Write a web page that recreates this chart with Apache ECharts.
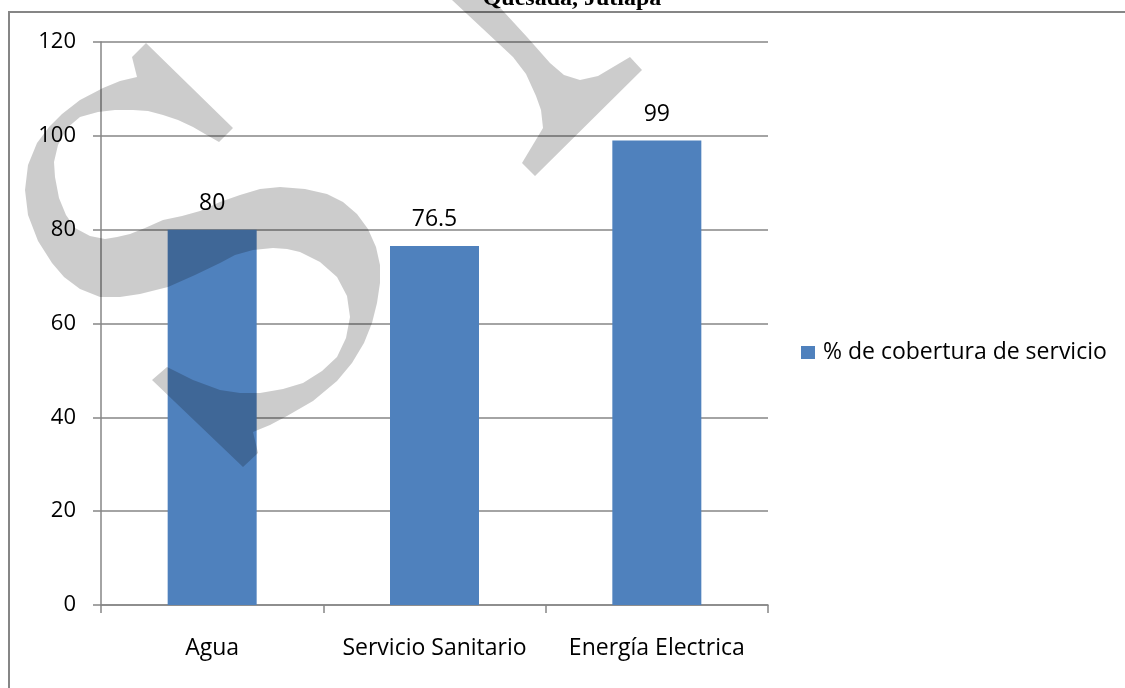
<!DOCTYPE html>
<html>
<head>
    <meta charset="utf-8">
    <title>Quesada, Jutiapa</title>
    <script src="https://cdn.jsdelivr.net/npm/echarts@6.0.0/dist/echarts.min.js"></script>
    <style>
        html, body { margin: 0; padding: 0; background: #fff; }
    </style>
</head>
<body>
    <div id="main" style="width: 1125px;height:688px;"></div>

<script>
// datos
const titulo = 'Quesada, Jutiapa';
const categorias = ['Agua', 'Servicio Sanitario', 'Energía Electrica'];
const cobertura = [80, 76.5, 99];
const nombreSerie = '% de cobertura de servicio';
const yMin = 0, yMax = 120, yPaso = 20;

const FUENTE = '"Open Sans", sans-serif';
const GRIS = '#868686';
const SOMBRA = 'rgba(0,0,0,0.2)';

// marca de agua (contornos aproximados)
const marcaS = [[132,57],[146,43],[233,128],[219,142],[205,134],[193,127],[178,120],[163,115],[148,111],[133,110],[115,110],[98,112],[80,117],[67,128],[58,145],[54,162],[55,177],[59,198],[66,215],[75,228],[90,236],[105,239],[117,237],[130,234],[145,228],[163,220],[182,216],[200,211],[220,202],[240,195],[260,189],[280,187],[305,189],[327,194],[343,202],[357,214],[368,229],[376,247],[380,265],[380,283],[377,303],[372,323],[364,343],[352,363],[337,381],[313,401],[287,416],[270,425],[253,432],[258,453],[243,467],[152,380],[167,367],[193,380],[220,390],[240,393],[260,393],[283,389],[303,383],[322,371],[337,357],[346,338],[350,317],[347,296],[337,277],[320,262],[300,252],[287,249],[273,248],[253,250],[235,255],[220,263],[195,275],[168,287],[140,294],[120,297],[100,297],[80,289],[64,277],[52,263],[38,241],[28,215],[25,190],[28,165],[37,143],[49,127],[62,114],[80,100],[103,88],[120,81],[137,77]];
const marcaY = [[432,-20],[473,-20],[493,0],[527,37],[550,63],[564,75],[580,80],[598,76],[630,57],[642,70],[535,176],[522,163],[543,128],[541,110],[536,96],[526,74],[513,57],[452,0]];

const myChart = echarts.init(document.getElementById('main'));

const option = {
    animation: false,
    backgroundColor: '#fff',
    textStyle: { fontFamily: FUENTE },
    grid: { left: 101, right: 357, top: 42, bottom: 83, containLabel: false },
    legend: {
        data: [nombreSerie],
        left: 801,
        top: 341,
        padding: 0,
        orient: 'vertical',
        icon: 'rect',
        itemWidth: 14,
        itemHeight: 13,
        textStyle: { fontFamily: FUENTE, fontSize: 23, color: '#000', padding: [0, 0, 0, 3] }
    },
    xAxis: {
        type: 'category',
        data: categorias,
        axisLine: { lineStyle: { color: GRIS, width: 1.5 } },
        axisTick: { show: true, length: 8, alignWithLabel: false, lineStyle: { color: GRIS, width: 1.5 } },
        axisLabel: { interval: 0, margin: 32, fontFamily: FUENTE, fontSize: 23, color: '#000' },
        splitLine: { show: false }
    },
    yAxis: {
        type: 'value',
        min: yMin,
        max: yMax,
        interval: yPaso,
        axisLine: { show: true, lineStyle: { color: GRIS, width: 1.5 } },
        axisTick: { show: true, length: 8, lineStyle: { color: GRIS, width: 1.5 } },
        axisLabel: { margin: 25, fontFamily: FUENTE, fontSize: 22, color: '#000' },
        splitLine: { show: true, lineStyle: { color: GRIS, width: 1.5 } }
    },
    series: [{
        name: nombreSerie,
        type: 'bar',
        data: cobertura,
        barWidth: 89,
        itemStyle: { color: '#4f81bd' },
        label: {
            show: true,
            position: 'top',
            distance: 15,
            fontFamily: FUENTE,
            fontSize: 23,
            color: '#000'
        }
    }],
    graphic: [
        {
            type: 'rect',
            silent: true,
            z: 1,
            shape: { x: 9, y: 12, width: 1300, height: 1000 },
            style: { fill: 'none', stroke: GRIS, lineWidth: 2 }
        },
        {
            type: 'text',
            silent: true,
            z: 2,
            x: 572,
            y: -1,
            style: {
                text: titulo,
                font: 'bold 24px "Liberation Serif", serif',
                fill: '#000',
                align: 'center',
                verticalAlign: 'middle'
            }
        },
        {
            type: 'polygon',
            silent: true,
            z: 100,
            shape: { points: marcaS },
            style: { fill: SOMBRA }
        },
        {
            type: 'polygon',
            silent: true,
            z: 100,
            shape: { points: marcaY },
            style: { fill: SOMBRA }
        }
    ]
};

myChart.setOption(option);
</script>
</body>
</html>
